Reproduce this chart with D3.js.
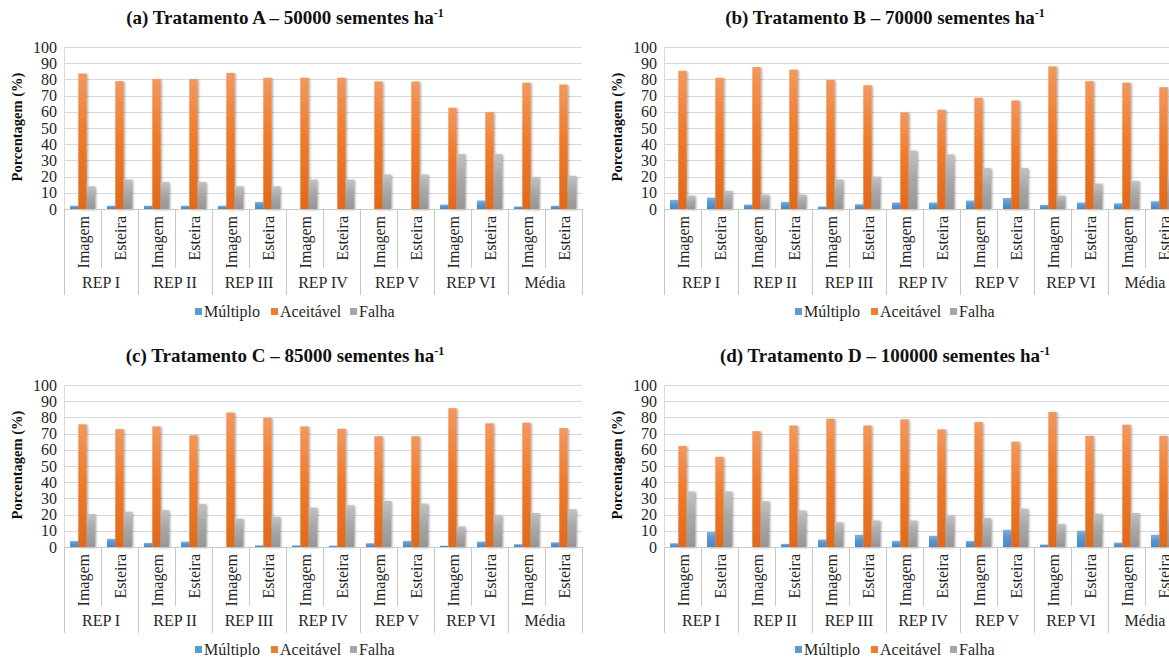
<!DOCTYPE html>
<html>
<head>
<meta charset="utf-8">
<script src="https://cdn.jsdelivr.net/npm/d3@7/dist/d3.min.js"></script>
<style>
  html, body { margin: 0; padding: 0; background: #fff; overflow: hidden; }
  svg text { font-family: "Liberation Serif", "Times New Roman", "DejaVu Serif", serif; }
</style>
</head>
<body>
<svg id="chart" width="1169" height="657"></svg>
<script>
// Categories: six replications plus the mean, each measured by two methods
const groups = ["REP I", "REP II", "REP III", "REP IV", "REP V", "REP VI", "Média"];
const methods = ["Imagem", "Esteira"];
const seriesNames = ["Múltiplo", "Aceitável", "Falha"];
const yTicks = [0, 10, 20, 30, 40, 50, 60, 70, 80, 90, 100];

// Treatment A – 50000 seeds/ha
const multiploA  = [2, 2, 2, 2, 2, 4.3, 0, 0, 0, 0, 2.7, 5.2, 1.5, 2];
const aceitavelA = [83.6, 78.9, 80.3, 80.2, 84, 81, 81, 81, 78.7, 78.7, 62.5, 59.8, 78, 76.8];
const falhaA     = [14, 18.2, 16.6, 16.6, 14, 14, 18.2, 18.2, 21.3, 21.3, 34, 34, 19.7, 20.5];

// Treatment B – 70000 seeds/ha
const multiploB  = [5.6, 7, 2.7, 4.3, 1.5, 2.9, 4, 4, 5.2, 6.8, 2.5, 4, 3.5, 4.8];
const aceitavelB = [85.3, 81, 87.6, 86, 79.7, 76.4, 59.6, 61.3, 68.7, 67, 88, 78.9, 78, 75.2];
const falhaB     = [8.3, 11.2, 8.9, 8.9, 18.2, 20, 36, 33.7, 25.3, 25.3, 8.3, 15.7, 17.4, 20];

// Treatment C – 85000 seeds/ha
const multiploC  = [3.7, 5, 2.5, 3.3, 0, 1, 1, 0.8, 2.3, 3.7, 0.8, 3.3, 1.7, 2.9];
const aceitavelC = [75.7, 72.8, 74.4, 69, 83, 79.8, 74.4, 73, 68.4, 68.4, 85.7, 76.3, 76.7, 73.4];
const falhaC     = [20.4, 21.8, 22.7, 26.6, 17.5, 18.7, 24.3, 25.8, 28.5, 26.8, 12.7, 19.7, 21, 23.3];

// Treatment D – 100000 seeds/ha
const multiploD  = [2.3, 9.2, 0, 1.9, 4.6, 7.5, 3.7, 6.9, 3.7, 10.6, 1.5, 10, 2.7, 7.5];
const aceitavelD = [62.4, 55.7, 71.5, 75, 79.2, 75, 78.8, 72.6, 77.1, 65, 83.4, 68.6, 75.5, 68.6];
const falhaD     = [34.3, 34.3, 28.3, 22.5, 15.2, 16.4, 16.4, 19.7, 17.9, 23.7, 14.3, 20.6, 21, 23];

const panels = [
  { letter: "a", trat: "A", dens: "50000", series: [multiploA, aceitavelA, falhaA], col: 0, row: 0 },
  { letter: "b", trat: "B", dens: "70000", series: [multiploB, aceitavelB, falhaB], col: 1, row: 0 },
  { letter: "c", trat: "C", dens: "85000", series: [multiploC, aceitavelC, falhaC], col: 0, row: 1 },
  { letter: "d", trat: "D", dens: "100000", series: [multiploD, aceitavelD, falhaD], col: 1, row: 1 }
];

const serif = "'Liberation Serif', 'Times New Roman', 'DejaVu Serif', serif";
const colors = ["#5B9BD5", "#ED7D31", "#A5A5A5"];
const gradStops = [
  ["#7DB1E2", "#5696D3", "#4A88C4"],
  ["#F2985F", "#EF7B2A", "#E06A1C"],
  ["#C2C2C2", "#A8A8A8", "#969696"]
];

const svg = d3.select("#chart");
svg.append("rect").attr("width", 1169).attr("height", 657).attr("fill", "#fff");

const defs = svg.append("defs");
gradStops.forEach((stops, i) => {
  const g = defs.append("linearGradient").attr("id", "grad" + i)
    .attr("x1", 0).attr("y1", 0).attr("x2", 0).attr("y2", 1);
  g.append("stop").attr("offset", "0%").attr("stop-color", stops[0]);
  g.append("stop").attr("offset", "45%").attr("stop-color", stops[1]);
  g.append("stop").attr("offset", "100%").attr("stop-color", stops[2]);
});
const shadow = defs.append("filter").attr("id", "barShadow")
  .attr("x", "-30%").attr("y", "-5%").attr("width", "180%").attr("height", "115%");
shadow.append("feDropShadow").attr("dx", 1.2).attr("dy", 0.8)
  .attr("stdDeviation", 0.9).attr("flood-color", "#000").attr("flood-opacity", 0.35);

// Plot geometry of one panel
const plotLeft = 64, plotTop = 47, plotW = 518, plotH = 162;
const colStep = 600, rowStep = 338;

const categories = [];
groups.forEach(g => methods.forEach(m => categories.push({ group: g, method: m })));

const x = d3.scaleBand().domain(d3.range(categories.length)).range([0, plotW]).padding(0);
const xs = d3.scaleBand().domain(d3.range(seriesNames.length))
  .range([0, x.bandwidth()]).paddingInner(0).paddingOuter(0.72);
const y = d3.scaleLinear().domain([0, 100]).range([plotH, 0]);

const textColor = "#262626";
const lineColor = "#C8C8C8";

panels.forEach(p => {
  const root = svg.append("g")
    .attr("transform", `translate(${p.col * colStep},${p.row * rowStep})`);

  // Title
  const title = root.append("text")
    .attr("x", 285).attr("y", 24)
    .attr("text-anchor", "middle")
    .attr("font-family", serif)
    .attr("font-weight", "bold").attr("font-size", 19)
    .attr("fill", "#111");
  title.append("tspan").text(`(${p.letter}) Tratamento  ${p.trat} – ${p.dens} sementes ha`);
  title.append("tspan").attr("dy", -7).attr("font-size", 12).text("-1");

  // Y-axis title
  root.append("text")
    .attr("transform", `translate(22,${plotTop + plotH / 2 - 1}) rotate(-90)`)
    .attr("text-anchor", "middle")
    .attr("font-family", serif)
    .attr("font-weight", "bold").attr("font-size", 14.5)
    .attr("fill", "#111")
    .text("Porcentagem (%)");

  const plot = root.append("g").attr("transform", `translate(${plotLeft},${plotTop})`);

  // Gridlines and y tick labels
  const yAxis = plot.append("g")
    .call(d3.axisLeft(y).tickValues(yTicks).tickSize(-plotW).tickPadding(7).tickFormat(d3.format("d")))
    .attr("font-family", serif);
  yAxis.select(".domain").remove();
  yAxis.selectAll(".tick line").attr("stroke", "#D9D9D9").attr("stroke-width", 1)
    .attr("shape-rendering", "crispEdges");
  yAxis.selectAll(".tick text")
    .attr("font-family", serif)
    .attr("font-size", 16).attr("fill", textColor);

  // Vertical axis line
  plot.append("line").attr("x1", 0).attr("x2", 0).attr("y1", 0).attr("y2", plotH)
    .attr("stroke", "#D9D9D9").attr("shape-rendering", "crispEdges");

  // Bars
  p.series.forEach((vals, si) => {
    plot.append("g").selectAll("rect")
      .data(vals)
      .join("rect")
      .attr("x", (d, i) => x(i) + xs(si))
      .attr("width", xs.bandwidth())
      .attr("y", d => y(d))
      .attr("height", d => plotH - y(d))
      .attr("fill", `url(#grad${si})`)
      .attr("filter", d => d > 0 ? "url(#barShadow)" : null);
  });

  // Category axis line and tick separators
  plot.append("line").attr("x1", 0).attr("x2", plotW).attr("y1", plotH).attr("y2", plotH)
    .attr("stroke", lineColor).attr("shape-rendering", "crispEdges");
  const bounds = d3.range(categories.length + 1);
  plot.append("g").selectAll("line")
    .data(bounds)
    .join("line")
    .attr("x1", i => i * x.step()).attr("x2", i => i * x.step())
    .attr("y1", plotH)
    .attr("y2", i => (i % 2 === 0) ? plotH + 86 : plotH + 59)
    .attr("stroke", lineColor).attr("shape-rendering", "crispEdges");

  // Method labels (rotated)
  plot.append("g").selectAll("text")
    .data(categories)
    .join("text")
    .attr("transform", (d, i) => `translate(${x(i) + x.bandwidth() / 2 + 6},${plotH + 7}) rotate(-90)`)
    .attr("text-anchor", "end")
    .attr("font-family", serif)
    .attr("font-size", 16).attr("fill", textColor)
    .text(d => d.method);

  // Group labels
  plot.append("g").selectAll("text")
    .data(groups)
    .join("text")
    .attr("x", (d, gi) => x(gi * 2) + x.step())
    .attr("y", plotH + 79)
    .attr("text-anchor", "middle")
    .attr("font-family", serif)
    .attr("font-size", 16).attr("fill", textColor)
    .text(d => d);

  // Legend
  const legendX = [195, 271, 350];
  const legend = root.append("g").selectAll("g")
    .data(seriesNames)
    .join("g")
    .attr("transform", (d, i) => `translate(${legendX[i]},312)`);
  legend.append("rect").attr("x", 0).attr("y", -4).attr("width", 7).attr("height", 7)
    .attr("fill", (d, i) => colors[i]);
  legend.append("text").attr("x", 9).attr("y", 5)
    .attr("font-family", serif)
    .attr("font-size", 16).attr("fill", textColor)
    .text(d => d);
});
</script>
</body>
</html>
